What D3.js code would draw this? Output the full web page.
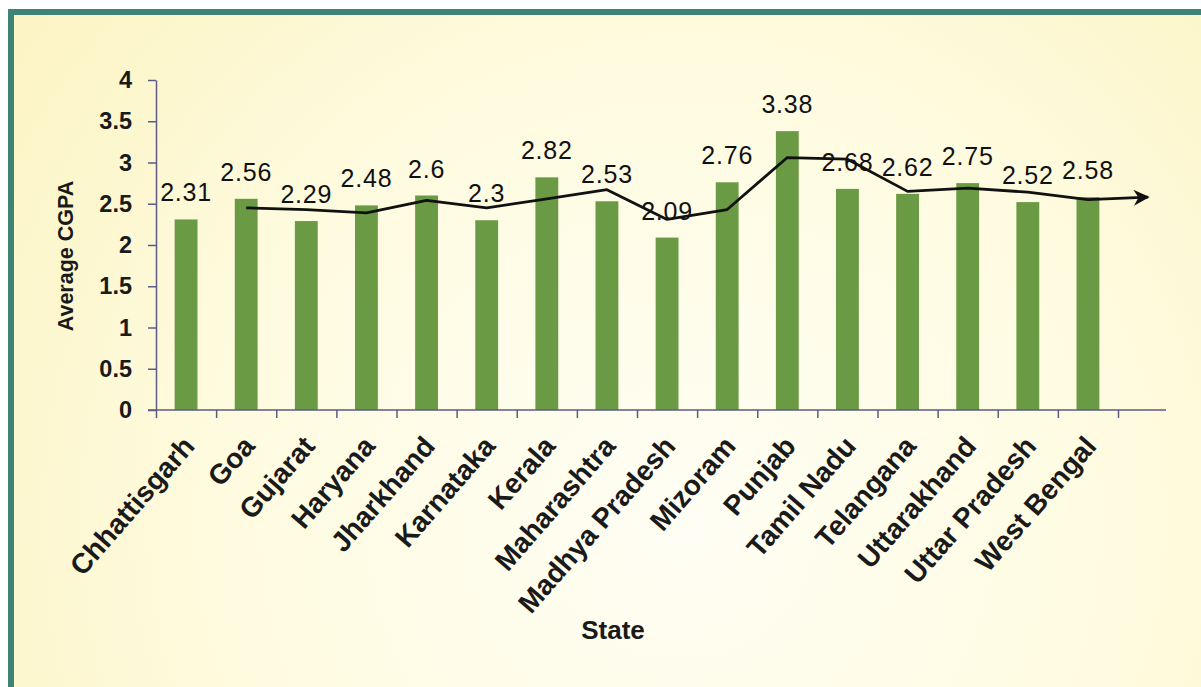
<!DOCTYPE html>
<html lang="en">
<head>
    <meta charset="UTF-8">
    <title>Average CGPA by State</title>
    <script src="https://d3js.org/d3.v7.min.js"></script>
    <style>
        html, body { margin: 0; padding: 0; background: #fff; }
        svg { display: block; font-family: "Liberation Sans", Arial, sans-serif; }
        .axis path, .axis line { stroke: #5b5b86; stroke-width: 1.5; }
    </style>
</head>
<body>
    <div id="chart"></div>

    <script>
        // Data
        const states = ["Chhattisgarh", "Goa", "Gujarat", "Haryana", "Jharkhand", "Karnataka",
            "Kerala", "Maharashtra", "Madhya Pradesh", "Mizoram", "Punjab", "Tamil Nadu",
            "Telangana", "Uttarakhand", "Uttar Pradesh", "West Bengal"];
        const cgpa = [2.31, 2.56, 2.29, 2.48, 2.6, 2.3, 2.82, 2.53, 2.09, 2.76, 3.38, 2.68, 2.62, 2.75, 2.52, 2.58];
        // black trend line (starts at the second state), plus the arrow tip one period past the end
        const trend = [null, 2.45, 2.43, 2.39, 2.54, 2.45, 2.56, 2.67, 2.31, 2.43, 3.06, 3.04, 2.65, 2.69, 2.64, 2.55];
        const trendForecast = 2.58;
        const yTicks = [0, 0.5, 1, 1.5, 2, 2.5, 3, 3.5, 4];

        const W = 1201, H = 687;
        const plot = {left: 156, right: 1118, top: 80, bottom: 410, axisEnd: 1166};

        const svg = d3.select("#chart").append("svg")
            .attr("width", W)
            .attr("height", H);

        // background gradient + frame
        const defs = svg.append("defs");
        const grad = defs.append("radialGradient")
            .attr("id", "bg")
            .attr("gradientUnits", "userSpaceOnUse")
            .attr("cx", 680).attr("cy", 520).attr("r", 820);
        grad.append("stop").attr("offset", "0%").attr("stop-color", "#fffef4");
        grad.append("stop").attr("offset", "55%").attr("stop-color", "#fefbe0");
        grad.append("stop").attr("offset", "100%").attr("stop-color", "#fcf4c4");

        defs.append("marker")
            .attr("id", "arrow")
            .attr("viewBox", "0 0 10 10")
            .attr("refX", 9).attr("refY", 5)
            .attr("markerUnits", "userSpaceOnUse")
            .attr("markerWidth", 18).attr("markerHeight", 16)
            .attr("orient", "auto")
            .append("path")
            .attr("d", "M0,0 L10,5 L0,10 L3,5 Z")
            .attr("fill", "#111");

        svg.append("rect")
            .attr("x", 8).attr("y", 9)
            .attr("width", W).attr("height", H)
            .attr("fill", "url(#bg)");

        svg.append("rect")
            .attr("x", 11).attr("y", 12)
            .attr("width", W + 20).attr("height", H + 20)
            .attr("fill", "none")
            .attr("stroke", "#3e8474")
            .attr("stroke-width", 6);

        // scales
        const x = d3.scaleBand()
            .domain(states)
            .range([plot.left, plot.right])
            .paddingInner(0.62)
            .paddingOuter(0.31);

        const step = x.step();
        // category edges / centres by index (extends one period past the last state)
        const xIdx = d3.scaleLinear()
            .domain([0, (plot.axisEnd - plot.left) / step])
            .range([plot.left, plot.axisEnd]);

        const y = d3.scaleLinear()
            .domain([0, 4])
            .range([plot.bottom, plot.top]);

        // bars
        svg.append("g")
            .selectAll("rect")
            .data(cgpa)
            .join("rect")
                .attr("x", (d, i) => x(states[i]))
                .attr("y", d => y(d))
                .attr("width", x.bandwidth())
                .attr("height", d => y(0) - y(d))
                .attr("fill", "#6a9a44");

        // axes
        const gY = svg.append("g")
            .attr("class", "axis")
            .attr("transform", `translate(${plot.left},0)`)
            .call(d3.axisLeft(y)
                .tickValues(yTicks)
                .tickFormat(d => d)
                .tickSizeInner(8)
                .tickSizeOuter(0)
                .tickPadding(16));
        gY.selectAll("text")
            .attr("fill", "#1a1a1a")
            .style("font-size", "23.5px")
            .style("font-weight", "bold");

        const gX = svg.append("g")
            .attr("class", "axis")
            .attr("transform", `translate(0,${plot.bottom})`)
            .call(d3.axisBottom(xIdx)
                .tickValues(d3.range(states.length + 1))
                .tickFormat("")
                .tickSizeInner(8)
                .tickSizeOuter(0));
        gX.select(".domain").attr("d", `M${plot.left - 8},0H${plot.axisEnd}`);

        // category labels
        svg.append("g")
            .selectAll("text")
            .data(states)
            .join("text")
                .attr("transform", d => `translate(${x(d) + x.bandwidth() / 2 + 10},447) rotate(-49)`)
                .attr("text-anchor", "end")
                .attr("fill", "#1a1a1a")
                .style("font-size", "28px")
                .style("font-weight", "bold")
                .text(d => d);

        // trend line with arrow
        const trendPts = trend.map((v, i) => ({i: i + 0.5, v: v}))
            .filter(d => d.v !== null);
        trendPts.push({i: states.length + 0.5, v: trendForecast});

        const line = d3.line()
            .x(d => xIdx(d.i))
            .y(d => y(d.v));

        svg.append("path")
            .datum(trendPts)
            .attr("d", line)
            .attr("fill", "none")
            .attr("stroke", "#111")
            .attr("stroke-width", 2.8)
            .attr("stroke-linejoin", "round")
            .attr("marker-end", "url(#arrow)");

        // value labels
        svg.append("g")
            .selectAll("text")
            .data(cgpa)
            .join("text")
                .attr("x", (d, i) => x(states[i]) + x.bandwidth() / 2)
                .attr("y", d => y(d) - 18)
                .attr("text-anchor", "middle")
                .attr("fill", "#111")
                .style("font-size", "25px")
                .style("letter-spacing", "0.8px")
                .text(d => d);

        // axis titles
        svg.append("text")
            .attr("transform", "translate(73,256) rotate(-90)")
            .attr("text-anchor", "middle")
            .attr("fill", "#1a1a1a")
            .style("font-size", "21.5px")
            .style("font-weight", "bold")
            .text("Average CGPA");

        svg.append("text")
            .attr("x", 613)
            .attr("y", 639)
            .attr("text-anchor", "middle")
            .attr("fill", "#1a1a1a")
            .style("font-size", "26px")
            .style("font-weight", "bold")
            .text("State");
    </script>
</body>
</html>
